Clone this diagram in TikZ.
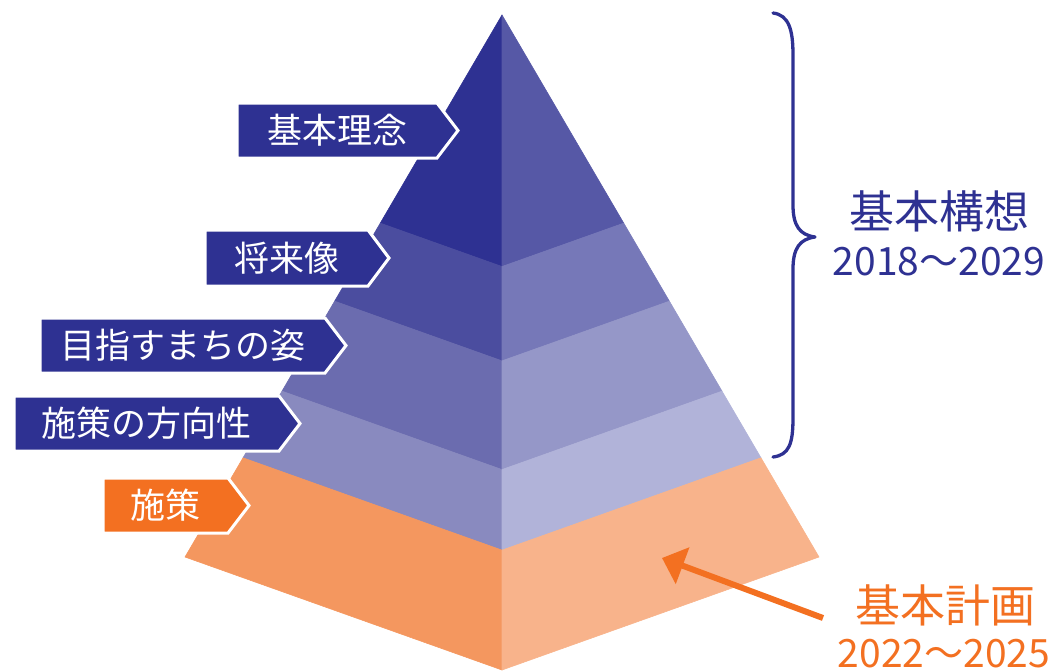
\documentclass[tikz,border=0pt]{standalone}
\usepackage{fontspec}
\newfontfamily\jp{Noto Sans CJK JP}
\usetikzlibrary{arrows.meta,calc}
\definecolor{navy}{HTML}{2E3192}
\definecolor{orng}{HTML}{F37021}
\definecolor{bL1}{HTML}{2E3192}
\definecolor{bR1}{HTML}{5658A6}
\definecolor{bL2}{HTML}{4B4D9F}
\definecolor{bR2}{HTML}{7678B8}
\definecolor{bL3}{HTML}{6B6CAF}
\definecolor{bR3}{HTML}{9597C8}
\definecolor{bL4}{HTML}{898ABF}
\definecolor{bR4}{HTML}{B1B3D9}
\definecolor{bL5}{HTML}{F4975F}
\definecolor{bR5}{HTML}{F8B38B}
\tikzset{
  face/.style={fill=#1, draw=#1, line width=0.6pt, line join=round},
  tagtext/.style={font=\jp\fontsize{35}{42}\selectfont, text=white, inner sep=0pt},
  bigtext/.style={font=\jp\fontsize{45}{52}\selectfont, inner sep=0pt},
  yeartext/.style={font=\jp\fontsize{39}{46}\selectfont, inner sep=0pt, anchor=base},
  bracestyle/.style={draw=navy, line width=3.3pt, line cap=round, line join=round},
  callarrow/.style={draw=orng, line width=6pt, -{Triangle[length=22pt,width=38pt]}}
}
\newcommand\tagbox[7]{%
  \filldraw[fill=#6, draw=white, line width=3pt, line join=miter]
    (#2,#4) -- (#3,#4) -- ({#3+21},{(#4+#5)/2}) -- (#3,#5) -- (#2,#5) -- cycle;
  \node[tagtext] (#1) at ({(#2+#3)/2},{(#4+#5)/2}) {#7};}
\begin{document}
\begin{tikzpicture}[x=1pt,y=-1pt]
\useasboundingbox (0,0) rectangle (1055,670);
% pyramid
\coordinate (A) at (502,15);
\coordinate (L) at (185,557);
\coordinate (F) at (502,670);
\coordinate (R) at (819,557);
\foreach \t [count=\i] in {0.384,0.528,0.694,0.817}{
  \coordinate (L\i) at ($(A)!\t!(L)$);
  \coordinate (F\i) at ($(A)!\t!(F)$);
  \coordinate (R\i) at ($(A)!\t!(R)$);
}
\path[face=bL1] (A) -- (L1) -- (F1) -- cycle;
\path[face=bR1] (A) -- (F1) -- (R1) -- cycle;
\path[face=bL2] (L1) -- (L2) -- (F2) -- (F1) -- cycle;
\path[face=bR2] (F1) -- (F2) -- (R2) -- (R1) -- cycle;
\path[face=bL3] (L2) -- (L3) -- (F3) -- (F2) -- cycle;
\path[face=bR3] (F2) -- (F3) -- (R3) -- (R2) -- cycle;
\path[face=bL4] (L3) -- (L4) -- (F4) -- (F3) -- cycle;
\path[face=bR4] (F3) -- (F4) -- (R4) -- (R3) -- cycle;
\path[face=bL5] (L4) -- (L) -- (F) -- (F4) -- cycle;
\path[face=bR5] (F4) -- (F) -- (R) -- (R4) -- cycle;
% labels
\tagbox{t1}{237}{437}{103}{158}{navy}{基本理念}
\tagbox{t2}{205}{368}{230}{286}{navy}{将来像}
\tagbox{t3}{40}{325}{318}{373}{navy}{目指すまちの姿}
\tagbox{t4}{14}{279}{396}{451}{navy}{施策の方向性}
\tagbox{t5}{103}{228}{478}{533}{orng}{施策}
% brace
\draw[bracestyle] (773,13) .. controls (789,15) and (793,30) .. (793,55)
  -- (793,205) .. controls (793,226) and (800,235) .. (815,237)
  .. controls (800,239) and (793,248) .. (793,269)
  -- (793,418) .. controls (793,444) and (789,455) .. (773,457);
\node[bigtext, text=navy] (kousou) at (939,211) {基本構想};
\node[yeartext, text=navy] (kousouY) at (939,275) {2018～2029};
% plan
\node[bigtext, text=orng] (keikaku) at (945,605) {基本計画};
\node[yeartext, text=orng] (keikakuY) at (944,667) {2022～2025};
\coordinate (arrS) at (823,618);
\coordinate (arrT) at (662,558);
\draw[callarrow] (arrS) -- (arrT);
\end{tikzpicture}
\end{document}
